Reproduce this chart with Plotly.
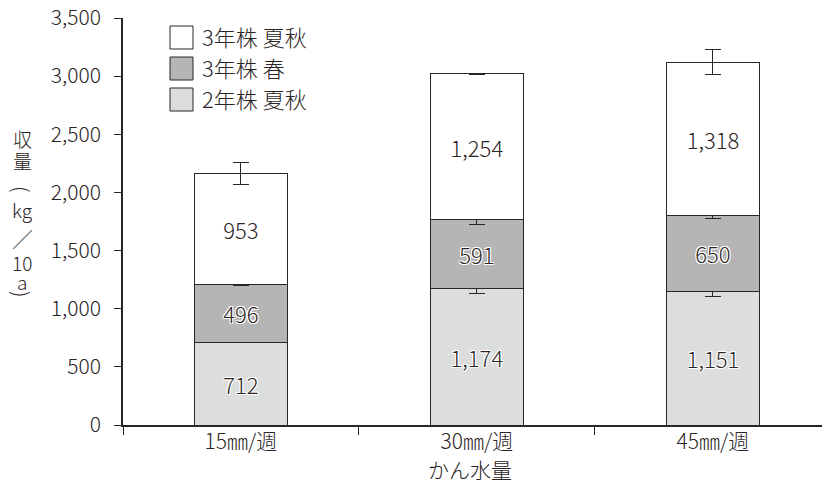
import plotly.graph_objects as go

categories = ["15㎜/週", "30㎜/週", "45㎜/週"]
series_names = ["2年株 夏秋", "3年株 春", "3年株 夏秋"]
vals_2y_ss = [712, 1174, 1151]
vals_3y_sp = [496, 591, 650]
vals_3y_ss = [953, 1254, 1318]
err_2y_ss = [5, 47, 48]
err_3y_sp = [10, 43, 25]
err_3y_ss = [95, 8, 107]
y_ticks = [0, 500, 1000, 1500, 2000, 2500, 3000, 3500]
y_title_parts = ["収", "量", "(", "kg", "╱", "10", "a", ")"]
x_title = "かん水量"

FONT = "Noto Sans CJK JP"
INK = "#2a2424"
fills = ["#dcdddd", "#b5b5b5", "#ffffff"]
series_vals = [vals_2y_ss, vals_3y_sp, vals_3y_ss]
series_err = [err_2y_ss, err_3y_sp, err_3y_ss]
halo = "-1px -1px 0 #fff, 1px -1px 0 #fff, -1px 1px 0 #fff, 1px 1px 0 #fff, 0 0 2px #fff"
shadows = [halo, halo, "none"]

# plot area geometry (pixels) used for paper-coordinate conversions
W, H = 822, 488
L, T, B = 123, 18, 63
PW, PH = W - L, H - T - B


def px(xpix):
    return (xpix - L) / PW


def py(ypix):
    return 1 - (ypix - T) / PH


fig = go.Figure()
for name, vals, errs, fill, sh in zip(series_names, series_vals, series_err, fills, shadows):
    fig.add_trace(go.Bar(
        x=categories, y=vals, name=name, width=0.394,
        marker=dict(color=fill, line=dict(color=INK, width=1)),
        error_y=dict(type="data", array=errs, visible=True, color=INK, thickness=1, width=8),
        text=[f"{v:,}" for v in vals], textposition="inside", insidetextanchor="middle",
        textangle=0, constraintext="none",
        insidetextfont=dict(family=FONT, size=22, color=INK, weight=300, shadow=sh),
        showlegend=False,
    ))

shapes = []
annotations = []
# legend (top to bottom: 3年株 夏秋, 3年株 春, 2年株 夏秋)
legend_rows = list(zip(series_names, fills))[::-1]
row_centers = [37.5, 68.5, 99.5]
for (name, fill), yc in zip(legend_rows, row_centers):
    shapes.append(dict(type="rect", xref="paper", yref="paper",
                       x0=px(170), x1=px(193), y0=py(yc - 11.5), y1=py(yc + 11.5),
                       fillcolor=fill, line=dict(color=INK, width=1)))
    annotations.append(dict(text=name, xref="paper", yref="paper", x=px(200), y=py(yc - 2),
                            xanchor="left", yanchor="middle", showarrow=False,
                            font=dict(size=22, family=FONT, color=INK, weight=300)))

# vertical y-axis title (stacked glyphs, parentheses turned sideways)
title_y = [138, 160, 189, 209, 238, 262, 281, 294]
title_angle = [0, 0, 90, 0, 0, 0, 0, 90]
title_size = [19, 19, 21, 19, 19, 19, 19, 21]
for part, yc, ang, sz in zip(y_title_parts, title_y, title_angle, title_size):
    annotations.append(dict(text=part, xref="paper", yref="paper", x=px(22), y=py(yc),
                            xanchor="center", yanchor="middle", showarrow=False, textangle=ang,
                            font=dict(size=sz, family=FONT, color=INK, weight=300)))

# x-axis title
annotations.append(dict(text=x_title, xref="paper", yref="paper", x=px(470), y=py(469),
                        xanchor="center", yanchor="middle", showarrow=False,
                        font=dict(size=21, family=FONT, color=INK, weight=300)))

fig.update_layout(
    barmode="stack",
    width=W, height=H,
    margin=dict(l=L, r=0, t=T, b=B),
    paper_bgcolor="white", plot_bgcolor="white",
    font=dict(family=FONT, size=21, color=INK, weight=300),
    showlegend=False,
    xaxis=dict(range=[-0.5, 2.462], showline=True, linecolor=INK, linewidth=1.5,
               ticks="outside", tickson="boundaries", ticklen=8, tickcolor=INK, tickwidth=1,
               ticklabelstandoff=-3,
               showgrid=False, tickfont=dict(size=21)),
    yaxis=dict(range=[0, 3500], tickvals=y_ticks, tickformat=",", showline=True, linecolor=INK,
               linewidth=1.5, ticks="outside", ticklen=7, tickcolor=INK, tickwidth=1,
               ticklabelstandoff=9,
               showgrid=False, zeroline=False, tickfont=dict(size=21)),
    shapes=shapes,
    annotations=annotations,
)

fig.write_html("out.html")
